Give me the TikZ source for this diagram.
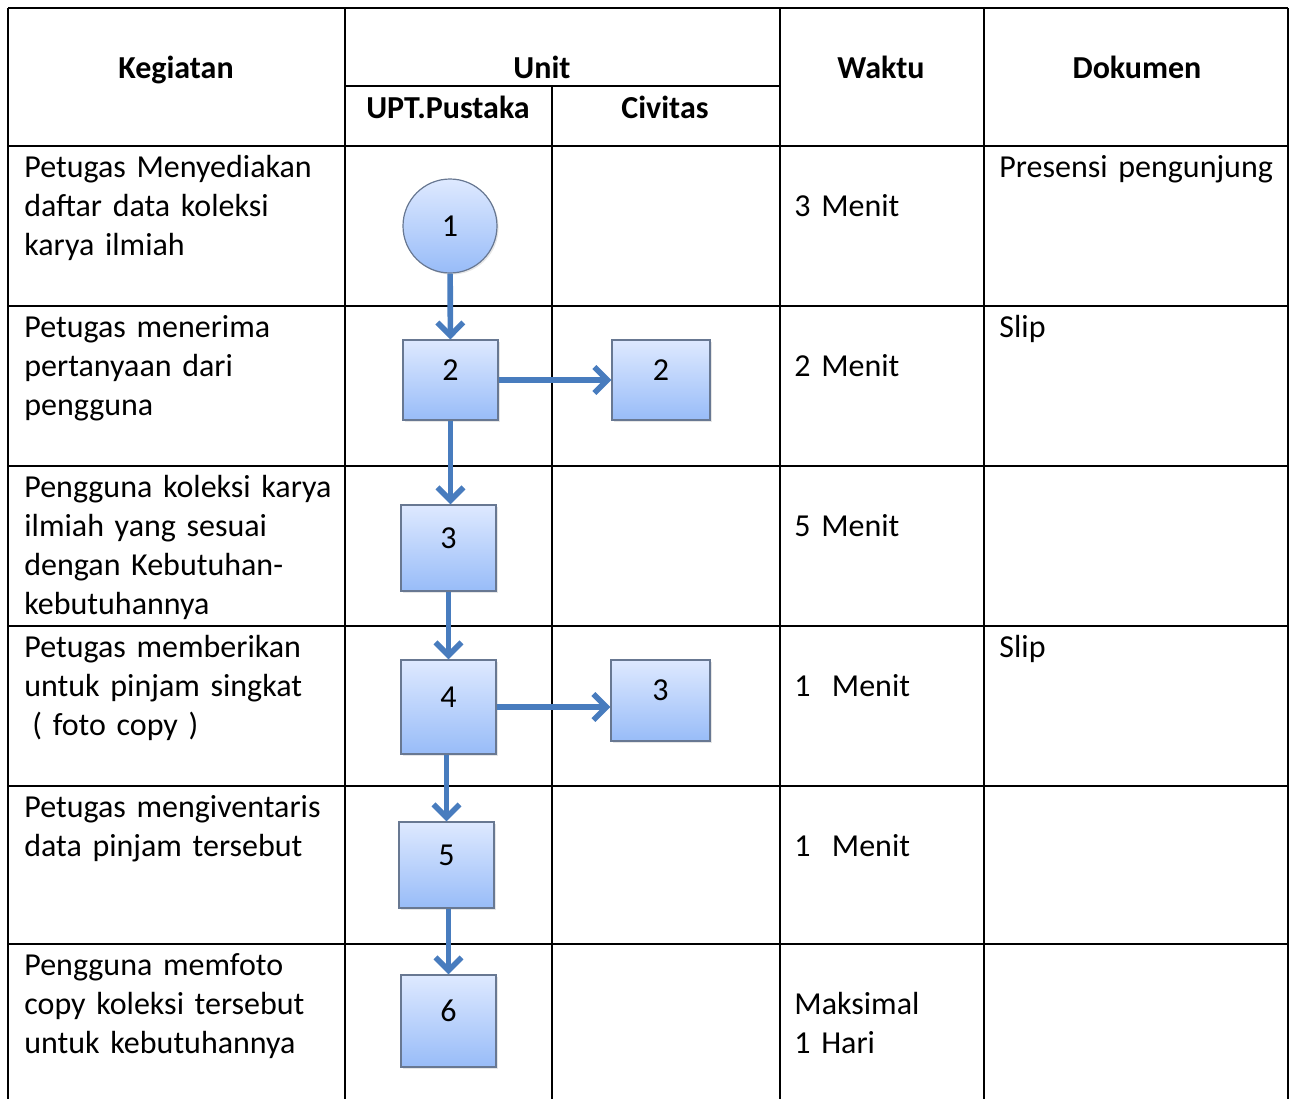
\documentclass[tikz,border=0pt]{standalone}
\usepackage{fontspec}
\setmainfont{Carlito}
\usepackage{xcolor}
\usepackage{tikz}
\usetikzlibrary{positioning,arrows.meta,shadows}
\definecolor{flowblue}{RGB}{72,124,190}
\definecolor{boxtop}{RGB}{222,233,255}
\definecolor{boxbottom}{RGB}{152,188,248}
\definecolor{boxedge}{RGB}{104,120,146}

\begin{document}
\fontsize{16}{19.5}\selectfont
\begin{tikzpicture}[x=0.5pt, y=-0.5pt,
    grid/.style={line width=1pt},
    head/.style={font=\bfseries, anchor=base, inner sep=0pt},
    cell/.style={anchor=base west, align=left, inner sep=0pt, text width=200pt},
    stepbox/.style={rectangle, draw=boxedge, line width=0.6pt, top color=boxtop, bottom color=boxbottom, minimum width=47.5pt, text height=6pt, text depth=6pt, drop shadow={opacity=0.2, shadow xshift=0.8pt, shadow yshift=-0.8pt}},
    startnode/.style={circle, draw=boxedge, line width=0.6pt, top color=boxtop, bottom color=boxbottom, minimum size=47pt, inner sep=0pt, drop shadow={opacity=0.2, shadow xshift=0.8pt, shadow yshift=-0.8pt}},
    arrow/.style={-{Straight Barb[length=6.5pt, width=13pt, line width=2.8pt]}, draw=flowblue, line width=2.8pt}
]
\useasboundingbox (0,0) rectangle (1296,1099);

% table lines
\draw[grid] (8,8) -- (1288,8);
\draw[grid] (345,86) -- (780,86);
\draw[grid] (8,146) -- (1288,146);
\draw[grid] (8,306) -- (1288,306);
\draw[grid] (8,466) -- (1288,466);
\draw[grid] (8,626) -- (1288,626);
\draw[grid] (8,786) -- (1288,786);
\draw[grid] (8,944) -- (1288,944);
\draw[grid] (8,8) -- (8,1099);
\draw[grid] (345,8) -- (345,1099);
\draw[grid] (552,86) -- (552,1099);
\draw[grid] (780,8) -- (780,1099);
\draw[grid] (984,8) -- (984,1099);
\draw[grid] (1288,8) -- (1288,1099);

% header
\node[head] (hkeg) at (176,78) {Kegiatan};
\node[head] (hunit) at (542,78) {Unit};
\node[head] (hupt) at (448,118) {UPT.Pustaka};
\node[head] (hciv) at (665,118) {Civitas};
\node[head] (hwaktu) at (881,78) {Waktu};
\node[head] (hdok) at (1137,78) {Dokumen};

% kegiatan
\node[cell] (keg1) at (24,177) {Petugas Menyediakan\\daftar data koleksi\\karya ilmiah};
\node[cell] (keg2) at (24,337) {Petugas menerima\\pertanyaan dari\\pengguna};
\node[cell] (keg3) at (24,497) {Pengguna koleksi karya\\ilmiah yang sesuai\\dengan Kebutuhan-\\kebutuhannya};
\node[cell] (keg4) at (24,657) {Petugas memberikan\\untuk pinjam singkat\\\hspace*{0.25em}( foto copy )};
\node[cell] (keg5) at (24,817) {Petugas mengiventaris\\data pinjam tersebut};
\node[cell] (keg6) at (24,975) {Pengguna memfoto\\copy koleksi tersebut\\untuk kebutuhannya};

% waktu
\node[cell] (waktu1) at (794,216) {3 Menit};
\node[cell] (waktu2) at (794,376) {2 Menit};
\node[cell] (waktu3) at (794,536) {5 Menit};
\node[cell] (waktu4) at (794,696) {1\ \ Menit};
\node[cell] (waktu5) at (794,856) {1\ \ Menit};
\node[cell] (waktu6) at (794,1014) {Maksimal\\1 Hari};

% dokumen
\node[cell] (dok1) at (999,177) {Presensi pengunjung};
\node[cell] (dok2) at (999,337) {Slip};
\node[cell] (dok4) at (999,657) {Slip};

% flow
\node[startnode] (s1) at (450,226) {1};
\node[stepbox, minimum height=40pt] (b2) at (450.5,380) {2};
\node[stepbox, minimum width=49pt, minimum height=40pt] (c2) at (661,380) {2};
\node[stepbox, minimum height=43pt] (b3) at (448.5,548) {3};
\node[stepbox, minimum height=47pt] (b4) at (448.5,707) {4};
\node[stepbox, minimum width=49.5pt, minimum height=40.5pt] (c3) at (660.5,700.5) {3};
\node[stepbox, minimum height=43pt] (b5) at (446.5,865) {5};
\node[stepbox, minimum height=46pt] (b6) at (448.5,1021) {6};

\draw[arrow] (s1) -- (b2);
\draw[arrow] (b2) -- (c2);
\draw[arrow] (b2.south) -- (b2.south |- b3.north);
\draw[arrow] (b3.south) -- (b3.south |- b4.north);
\draw[arrow] (b4.east) -- (b4.east -| c3.west);
\draw[arrow] (b5.north |- b4.south) -- (b5.north);
\draw[arrow] (b6.north |- b5.south) -- (b6.north);

\end{tikzpicture}
\end{document}
